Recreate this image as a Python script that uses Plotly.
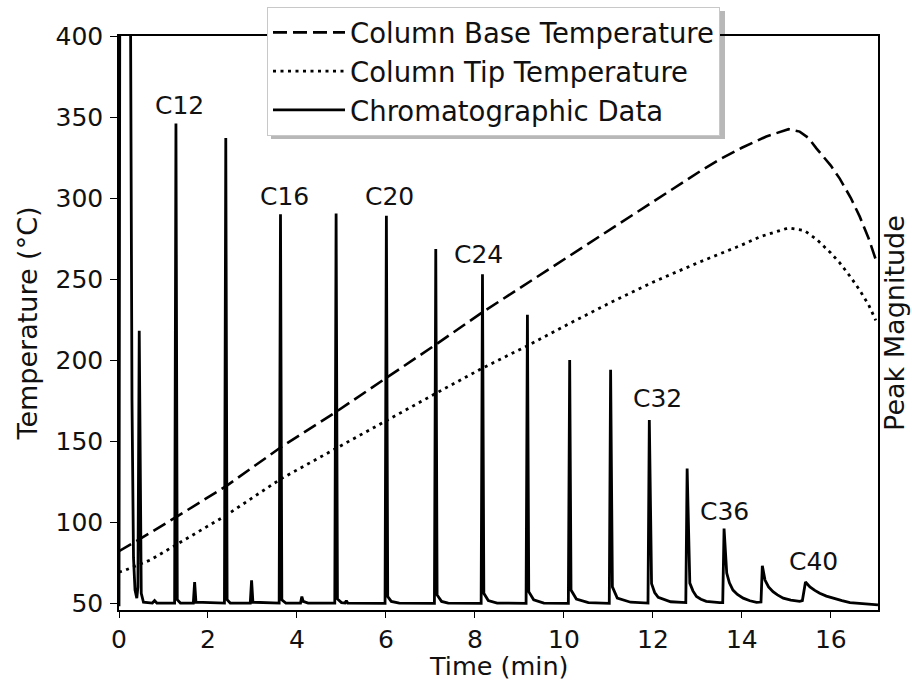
import plotly.graph_objects as go

# Column base temperature profile (degC) against run time (min)
base_time = [0.0, 0.1, 0.5, 1.28, 2.4, 3.63, 4.88, 6.01, 7.12, 8.17, 9.18, 10.13,
             11.05, 12.0, 13.06, 13.5, 14.0, 14.55, 15.05, 15.3, 15.5, 15.68, 16.0,
             16.2, 16.45, 16.65, 16.85, 17.01]
base_temp = [82.0, 83.5, 90.0, 103.0, 122.0, 146.0, 168.0, 189.0, 209.5, 229.5, 247.5, 264.4,
             280.8, 297.7, 316.5, 323.8, 331.0, 338.0, 342.5, 341.0, 337.0, 330.5, 320.0,
             312.0, 300.0, 288.5, 275.0, 262.0]

# Column tip temperature profile (degC)
tip_time = [0.0, 0.15, 0.7, 1.28, 2.4, 3.63, 4.88, 6.01, 7.12, 8.17, 9.18, 10.13, 11.05,
            12.0, 12.98, 14.0, 14.4, 15.04, 15.4, 15.68, 16.0, 16.2, 16.45, 16.65, 16.85, 17.01]
tip_temp = [69.0, 70.4, 76.5, 86.0, 104.0, 126.5, 145.5, 163.0, 179.4, 195.0, 208.8, 222.6, 235.5,
            248.0, 259.7, 271.0, 276.0, 281.5, 280.0, 274.5, 266.0, 260.0, 251.0, 243.0, 234.0, 224.5]

# Detector trace, in the same units as the temperature scale
chrom_time = [
    0.00, 0.02, 0.25, 0.262, 0.292, 0.326, 0.36, 0.40, 0.425, 0.455, 0.475, 0.50, 0.55,
    0.75, 0.80, 0.85,
    1.25, 1.28, 1.31, 1.38,
    1.67, 1.70, 1.73,
    2.37, 2.40, 2.43, 2.50,
    2.95, 2.98, 3.01,
    3.60, 3.63, 3.66, 3.75,
    4.08, 4.11, 4.14, 4.25,
    4.85, 4.88, 4.91, 5.00, 5.08, 5.11, 5.14,
    5.98, 6.01, 6.04, 6.12, 6.30,
    7.09, 7.12, 7.15, 7.25, 7.40,
    8.14, 8.17, 8.20, 8.30, 8.50,
    9.15, 9.18, 9.21, 9.32, 9.55,
    10.10, 10.13, 10.16, 10.28, 10.55,
    11.02, 11.05, 11.09, 11.20, 11.50,
    11.89, 11.92, 11.97, 12.04, 12.12, 12.40,
    12.74, 12.77, 12.83, 12.90, 12.98, 13.08, 13.20, 13.50,
    13.57, 13.60, 13.66, 13.72, 13.80, 13.90, 14.03, 14.18, 14.33,
    14.43, 14.46, 14.52, 14.60, 14.70, 14.80, 14.93, 15.10, 15.30, 15.36,
    15.43, 15.53, 15.64, 15.75, 15.90, 16.05, 16.25, 16.43, 16.70, 17.06,
]
chrom_signal = [
    48.0, 480.0, 480.0, 400.0, 175.0, 78.0, 58.0, 53.0, 60.0, 218.0, 120.0, 56.0, 50.5,
    50.0, 51.5, 50.0,
    50.0, 346.0, 52.0, 50.0,
    50.0, 63.0, 50.5,
    50.0, 337.0, 52.0, 50.0,
    50.0, 64.0, 50.5,
    50.0, 290.0, 52.0, 50.0,
    50.0, 54.0, 51.0, 50.0,
    50.0, 290.5, 52.5, 50.3, 50.0, 51.5, 50.0,
    49.8, 289.0, 54.0, 51.0, 50.0,
    49.8, 268.5, 55.0, 51.0, 50.0,
    49.8, 253.0, 56.0, 51.5, 50.0,
    49.8, 228.0, 57.0, 52.0, 50.0,
    49.8, 200.0, 58.0, 52.5, 50.2,
    49.8, 194.0, 60.0, 53.0, 50.5,
    50.0, 163.0, 62.0, 56.5, 53.5, 50.8,
    50.3, 133.0, 62.3, 57.5, 54.0, 52.3, 51.0, 50.2,
    50.2, 96.0, 68.5, 62.5, 58.0, 55.3, 53.0, 51.4, 50.4,
    50.6, 73.0, 64.2, 60.0, 57.0, 55.0, 53.0, 51.8, 51.0, 51.5,
    63.0, 60.0, 57.8, 56.0, 54.3, 53.0, 51.5, 50.3, 49.5, 48.8,
]

# Carbon-number labels placed over the n-alkane peaks
peak_labels = ["C12", "C16", "C20", "C24", "C32", "C36", "C40"]
label_time = [1.37, 3.71, 6.09, 8.07, 12.11, 13.62, 15.62]
label_level = [357.4, 300.8, 300.8, 265.4, 176.4, 106.4, 75.5]

x_ticks = [0, 2, 4, 6, 8, 10, 12, 14, 16]
y_ticks = [50, 100, 150, 200, 250, 300, 350, 400]

x_range = [0, 17.06]
y_range = [45.7, 400]

FONT = "DejaVu Sans"
INK = "#111111"

# plot-area geometry in pixels (used for paper-relative placement)
W, H = 912, 682
L, R, T, B = 119, 878, 36, 610
PW, PH = R - L, B - T


def px_x(v):
    return (v - L) / PW


def px_y(v):
    return (B - v) / PH


fig = go.Figure()

fig.add_trace(go.Scatter(
    x=base_time, y=base_temp, mode="lines", name="Column Base Temperature",
    line=dict(color="black", width=2.6, dash="14px,6px"),
))
fig.add_trace(go.Scatter(
    x=tip_time, y=tip_temp, mode="lines", name="Column Tip Temperature",
    line=dict(color="black", width=2.8, dash="3px,4.5px"),
))
fig.add_trace(go.Scatter(
    x=chrom_time, y=chrom_signal, mode="lines", name="Chromatographic Data",
    line=dict(color="black", width=2.8), yaxis="y2",
))

for text, tx, ty in zip(peak_labels, label_time, label_level):
    fig.add_annotation(x=tx, y=ty, xref="x", yref="y", text=text, showarrow=False,
                       xanchor="center", yanchor="middle",
                       font=dict(family=FONT, size=25, color=INK))

# x-axis title, set just under the tick labels
fig.add_annotation(x=0.5, y=px_y(666), xref="paper", yref="paper", text="Time (min)",
                   showarrow=False, xanchor="center", yanchor="middle",
                   font=dict(family=FONT, size=25.5, color=INK))

# legend drop shadow (offset below / right of the legend box)
fig.add_shape(type="rect", xref="paper", yref="paper",
              x0=px_x(271), x1=px_x(725), y0=px_y(139), y1=px_y(11),
              line=dict(width=0), fillcolor="rgba(0,0,0,0.28)", layer="above")

fig.update_layout(
    width=W, height=H,
    margin=dict(l=L, r=W - R, t=T, b=H - B, autoexpand=False),
    paper_bgcolor="white", plot_bgcolor="white",
    font=dict(family=FONT, size=25, color=INK),
    showlegend=True,
    legend=dict(
        x=px_x(267), y=px_y(7), xanchor="left", yanchor="top",
        bgcolor="white", bordercolor="#c8c8c8", borderwidth=1,
        font=dict(family=FONT, size=27.5, color=INK),
        itemwidth=72,
    ),
    xaxis=dict(
        range=x_range, tickvals=x_ticks, ticktext=[str(v) for v in x_ticks],
        showgrid=False, zeroline=False, showline=True, linecolor="black", linewidth=1.5,
        mirror=True, ticks="outside", ticklen=6, tickwidth=1.3, tickcolor="black",
        tickfont=dict(size=25), ticklabelstandoff=0, automargin=False,
    ),
    yaxis=dict(
        range=y_range, tickvals=y_ticks, ticktext=[str(v) for v in y_ticks],
        showgrid=False, zeroline=False, showline=True, linecolor="black", linewidth=1.5,
        mirror=True, ticks="outside", ticklen=7, tickwidth=1.3, tickcolor="black",
        tickfont=dict(size=25), ticklabelstandoff=2, automargin=False,
        title=dict(text="Temperature (°C)", font=dict(size=27), standoff=10),
    ),
    yaxis2=dict(
        range=y_range, overlaying="y", side="right", showgrid=False, zeroline=False,
        showticklabels=False, ticks="", showline=False, automargin=False,
        title=dict(text="Peak Magnitude", font=dict(size=27), standoff=7),
    ),
)

fig.write_html("out.html")
